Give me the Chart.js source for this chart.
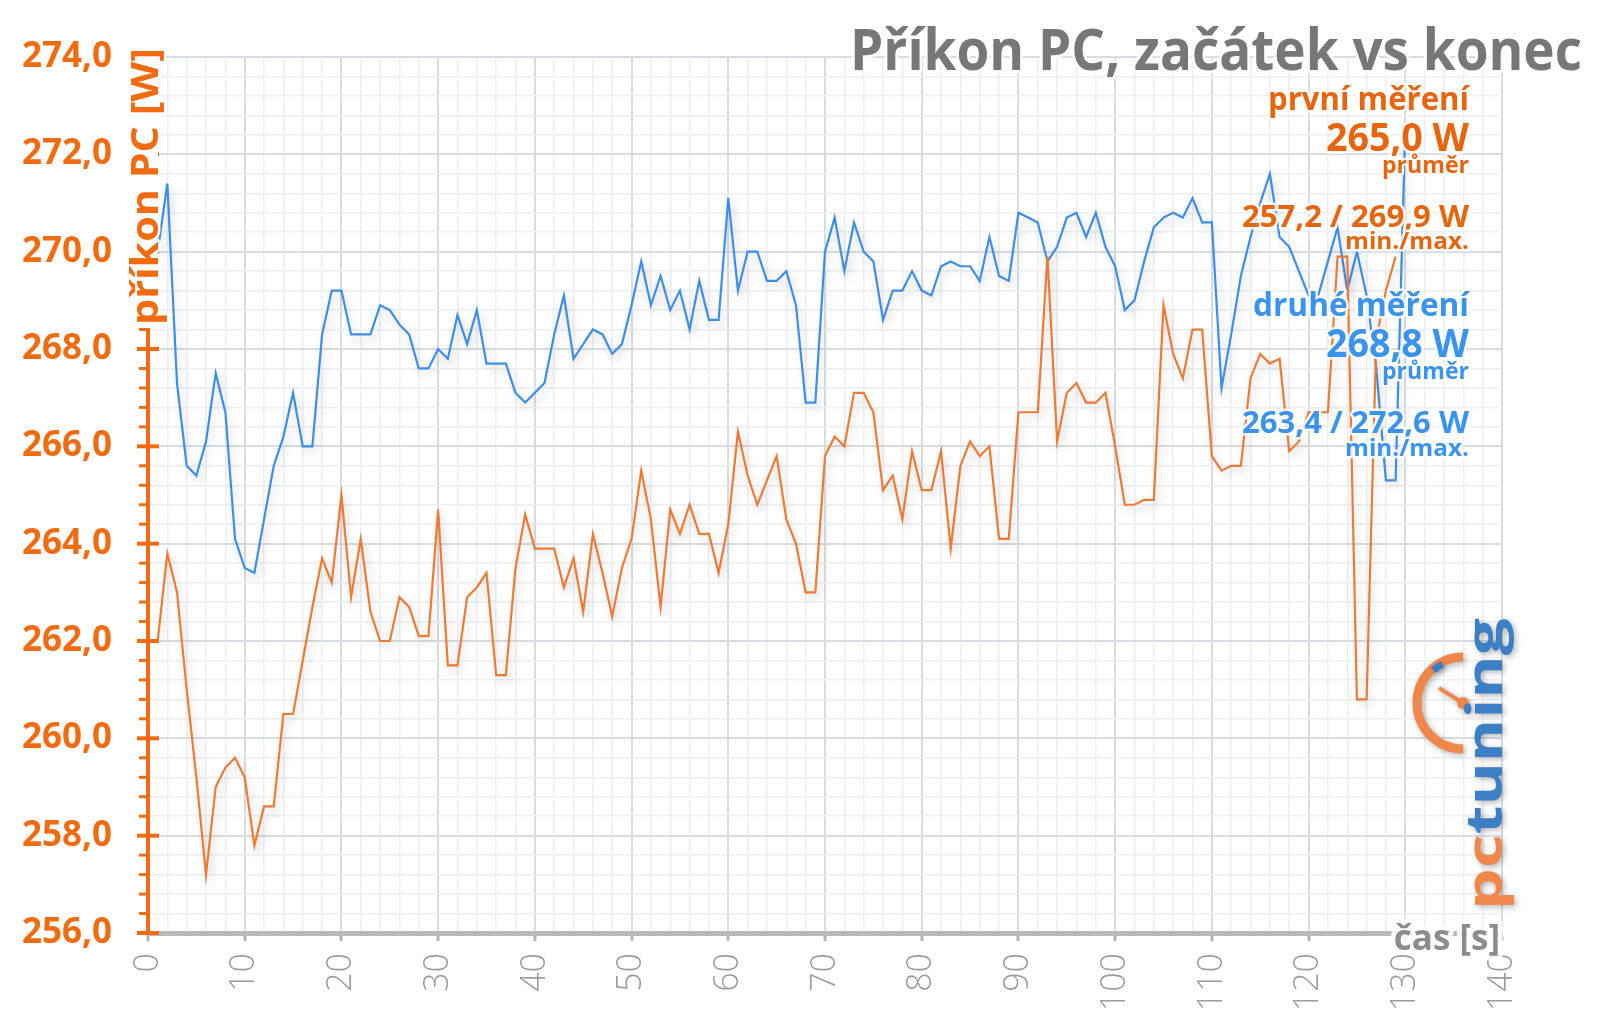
<!DOCTYPE html>
<html>
<head>
<meta charset="utf-8">
<script src="https://cdn.jsdelivr.net/npm/chart.js@4.4.1/dist/chart.umd.min.js"></script>
<style>
  html, body { margin: 0; padding: 0; background: #fff; }
  #wrap { width: 1600px; height: 1017px; }
</style>
</head>
<body>
<div id="wrap"><canvas id="chart" width="1600" height="1017"></canvas></div>
<script>
// time in seconds
var seconds = [1, 2, 3, 4, 5, 6, 7, 8, 9, 10, 11, 12, 13, 14, 15, 16, 17, 18, 19, 20,
    21, 22, 23, 24, 25, 26, 27, 28, 29, 30, 31, 32, 33, 34, 35, 36, 37, 38, 39, 40,
    41, 42, 43, 44, 45, 46, 47, 48, 49, 50, 51, 52, 53, 54, 55, 56, 57, 58, 59, 60,
    61, 62, 63, 64, 65, 66, 67, 68, 69, 70, 71, 72, 73, 74, 75, 76, 77, 78, 79, 80,
    81, 82, 83, 84, 85, 86, 87, 88, 89, 90, 91, 92, 93, 94, 95, 96, 97, 98, 99, 100,
    101, 102, 103, 104, 105, 106, 107, 108, 109, 110, 111, 112, 113, 114, 115, 116, 117, 118, 119, 120,
    121, 122, 123, 124, 125, 126, 127, 128, 129, 130];

// první měření (orange)
var firstRun = [262.0, 263.8, 263.0, 261.0, 259.2, 257.2, 259.0, 259.4, 259.6, 259.2,
    257.8, 258.6, 258.6, 260.5, 260.5, 261.6, 262.7, 263.7, 263.2, 265.0,
    262.9, 264.1, 262.6, 262.0, 262.0, 262.9, 262.7, 262.1, 262.1, 264.7,
    261.5, 261.5, 262.9, 263.1, 263.4, 261.3, 261.3, 263.5, 264.6, 263.9,
    263.9, 263.9, 263.1, 263.7, 262.6, 264.2, 263.4, 262.5, 263.5, 264.1,
    265.5, 264.5, 262.7, 264.7, 264.2, 264.8, 264.2, 264.2, 263.4, 264.4,
    266.3, 265.4, 264.8, 265.3, 265.8, 264.5, 264.0, 263.0, 263.0, 265.8,
    266.2, 266.0, 267.1, 267.1, 266.7, 265.1, 265.4, 264.5, 265.9, 265.1,
    265.1, 265.9, 263.9, 265.6, 266.1, 265.8, 266.0, 264.1, 264.1, 266.7,
    266.7, 266.7, 269.9, 266.1, 267.1, 267.3, 266.9, 266.9, 267.1, 266.0,
    264.8, 264.8, 264.9, 264.9, 268.9, 267.9, 267.4, 268.4, 268.4, 265.8,
    265.5, 265.6, 265.6, 267.4, 267.9, 267.7, 267.8, 265.9, 266.1, 266.7,
    266.7, 266.7, 269.9, 269.9, 260.8, 260.8, 268.2, 269.2, 269.9];

// druhé měření (blue)
var secondRun = [270.0, 271.4, 267.3, 265.6, 265.4, 266.1, 267.5, 266.7, 264.1, 263.5,
    263.4, 264.5, 265.6, 266.2, 267.1, 266.0, 266.0, 268.3, 269.2, 269.2,
    268.3, 268.3, 268.3, 268.9, 268.8, 268.5, 268.3, 267.6, 267.6, 268.0,
    267.8, 268.7, 268.1, 268.8, 267.7, 267.7, 267.7, 267.1, 266.9, 267.1,
    267.3, 268.3, 269.1, 267.8, 268.1, 268.4, 268.3, 267.9, 268.1, 268.9,
    269.8, 268.9, 269.5, 268.8, 269.2, 268.4, 269.4, 268.6, 268.6, 271.1,
    269.2, 270.0, 270.0, 269.4, 269.4, 269.6, 268.9, 266.9, 266.9, 270.0,
    270.7, 269.6, 270.6, 270.0, 269.8, 268.6, 269.2, 269.2, 269.6, 269.2,
    269.1, 269.7, 269.8, 269.7, 269.7, 269.4, 270.3, 269.5, 269.4, 270.8,
    270.7, 270.6, 269.8, 270.1, 270.7, 270.8, 270.3, 270.8, 270.1, 269.7,
    268.8, 269.0, 269.8, 270.5, 270.7, 270.8, 270.7, 271.1, 270.6, 270.6,
    267.2, 268.3, 269.5, 270.3, 271.0, 271.6, 270.3, 270.1, 269.6, 269.1,
    269.1, 269.8, 270.5, 269.2, 270.0, 269.1, 267.6, 265.3, 265.3, 272.6];

var summaryFirst = ['první měření', '265,0 W', 'průměr', '257,2 / 269,9 W', 'min./max.'];
var summarySecond = ['druhé měření', '268,8 W', 'průměr', '263,4 / 272,6 W', 'min./max.'];

var ORANGE = '#f26b10';
var ORANGE_TXT = '#e8650f';
var BLUE_TXT = '#3a93ec';

function toPoints(vals) {
    var pts = [];
    for (var i = 0; i < vals.length; i++) {
        pts.push({x: seconds[i], y: vals[i]});
    }
    return pts;
}

function isMajorY(v) { return Math.abs(v / 2 - Math.round(v / 2)) < 1e-6; }

// draws text, optionally squeezed to a given width, with a white halo
function txt(ctx, s, x, y, o) {
    ctx.save();
    ctx.font = (o.weight || 'bold') + ' ' + o.size + 'px "Open Sans"';
    ctx.textAlign = o.align || 'right';
    ctx.textBaseline = o.base || 'alphabetic';
    var w = ctx.measureText(s).width;
    var sx = o.width ? o.width / w : 1;
    ctx.translate(x, y);
    if (o.rot) ctx.rotate(o.rot);
    ctx.scale(sx, 1);
    if (o.halo) {
        ctx.lineJoin = 'round';
        ctx.lineWidth = o.halo;
        ctx.strokeStyle = 'rgba(255,255,255,0.85)';
        ctx.strokeText(s, 0, 0);
    }
    ctx.fillStyle = o.color;
    ctx.fillText(s, 0, 0);
    ctx.restore();
}

// y ticks + the white strip behind the y title, then a soft shadow for the lines
var lineShadow = {
    id: 'lineShadow',
    beforeDatasetsDraw: function(chart) {
        var c = chart.ctx;
        var y = chart.scales.y;
        var left = chart.chartArea.left;

        c.save();
        c.strokeStyle = ORANGE;
        y.ticks.forEach(function(t) {
            var py = y.getPixelForValue(t.value);
            c.beginPath();
            if (isMajorY(t.value)) {
                c.lineWidth = 4;
                c.moveTo(left - 11, py);
                c.lineTo(left + 11, py);
            } else {
                c.lineWidth = 3;
                c.moveTo(left - 9, py);
                c.lineTo(left, py);
            }
            c.stroke();
        });
        c.fillStyle = '#ffffff';
        c.fillRect(left - 18, 52, 28, 276);
        c.restore();

        c.save();
        c.shadowColor = 'rgba(0,0,0,0.2)';
        c.shadowBlur = 10;
        c.shadowOffsetX = 3;
        c.shadowOffsetY = 5;
    },
    afterDatasetsDraw: function(chart) {
        chart.ctx.restore();
    }
};

var decorations = {
    id: 'decorations',
    afterDraw: function(chart) {
        var ctx = chart.ctx;
        var left = chart.chartArea.left;

        // axis titles
        txt(ctx, 'příkon PC [W]', left - 1, 325, {size: 37, color: ORANGE, align: 'left', base: 'middle', rot: -Math.PI / 2, width: 277, halo: 5});
        txt(ctx, 'čas [s]', 1500, 950, {size: 35, color: '#8c8c8c', align: 'right', halo: 10});

        // title
        txt(ctx, 'Příkon PC, začátek vs konec', 1582, 70, {size: 58, color: '#777777', width: 732, halo: 6});

        // summary texts
        var rx = 1469;
        txt(ctx, summaryFirst[0], rx, 110, {size: 32, color: ORANGE_TXT, width: 201, halo: 5});
        txt(ctx, summaryFirst[1], rx, 151, {size: 40, color: ORANGE_TXT, width: 143, halo: 5});
        txt(ctx, summaryFirst[2], rx, 173, {size: 24, color: ORANGE_TXT, width: 87, halo: 5});
        txt(ctx, summaryFirst[3], rx, 227, {size: 31, color: ORANGE_TXT, width: 227, halo: 5});
        txt(ctx, summaryFirst[4], rx, 249, {size: 24, color: ORANGE_TXT, width: 124, halo: 5});
        txt(ctx, summarySecond[0], rx, 316, {size: 32, color: BLUE_TXT, width: 216, halo: 5});
        txt(ctx, summarySecond[1], rx, 357, {size: 40, color: BLUE_TXT, width: 143, halo: 5});
        txt(ctx, summarySecond[2], rx, 379, {size: 24, color: BLUE_TXT, width: 87, halo: 5});
        txt(ctx, summarySecond[3], rx, 433, {size: 31, color: BLUE_TXT, width: 227, halo: 5});
        txt(ctx, summarySecond[4], rx, 456, {size: 24, color: BLUE_TXT, width: 124, halo: 5});

        // pctuning logo
        ctx.save();
        ctx.shadowColor = 'rgba(0,0,0,0.3)';
        ctx.shadowBlur = 6;
        ctx.shadowOffsetX = 2;
        ctx.shadowOffsetY = 2;
        ctx.strokeStyle = '#f0874a';
        ctx.lineWidth = 9;
        ctx.beginPath();
        ctx.arc(1463, 703, 46, -Math.PI / 2, Math.PI / 2, true);
        ctx.stroke();
        ctx.strokeStyle = '#3b7cc4';
        ctx.lineWidth = 7;
        ctx.beginPath();
        ctx.arc(1463, 703, 44, -132 * Math.PI / 180, -118 * Math.PI / 180);
        ctx.stroke();
        ctx.strokeStyle = '#f0874a';
        ctx.lineWidth = 4;
        ctx.beginPath();
        ctx.moveTo(1463, 703);
        ctx.lineTo(1439, 688);
        ctx.stroke();
        ctx.fillStyle = '#f0874a';
        ctx.beginPath();
        ctx.arc(1463, 703, 6, 0, Math.PI * 2);
        ctx.fill();

        ctx.font = 'bold 50px "Open Sans"';
        ctx.textAlign = 'left';
        ctx.textBaseline = 'alphabetic';
        var wpc = ctx.measureText('pc').width;
        var wall = ctx.measureText('pctuning').width;
        ctx.translate(1502, 910);
        ctx.rotate(-Math.PI / 2);
        ctx.scale(292 / wall, 1);
        ctx.fillStyle = '#f0874a';
        ctx.fillText('pc', 0, 0);
        ctx.fillStyle = '#3b7fc4';
        ctx.fillText('tuning', wpc, 0);
        ctx.restore();
    }
};

new Chart(document.getElementById('chart'), {
    type: 'line',
    data: {
        datasets: [{
            label: 'první měření',
            data: toPoints(firstRun),
            borderColor: '#ee7a33',
            borderWidth: 2.2,
            pointRadius: 0,
            tension: 0,
            fill: false
        }, {
            label: 'druhé měření',
            data: toPoints(secondRun),
            borderColor: '#3d8ee8',
            borderWidth: 2.2,
            pointRadius: 0,
            tension: 0,
            fill: false
        }]
    },
    options: {
        responsive: false,
        animation: false,
        layout: { padding: { left: 0, top: 48, right: 98, bottom: 0 } },
        plugins: {
            legend: { display: false },
            title: { display: false },
            tooltip: { enabled: false }
        },
        scales: {
            x: {
                type: 'linear',
                min: 0,
                max: 140,
                afterFit: function(s) { s.height = 84; },
                ticks: {
                    stepSize: 2,
                    autoSkip: false,
                    maxRotation: 90,
                    minRotation: 90,
                    padding: 12,
                    color: '#9c9c9c',
                    font: { family: 'Open Sans', size: 34, weight: '300' },
                    callback: function(v) { return v % 10 === 0 ? String(v) : ''; }
                },
                grid: {
                    color: function(c) { return c.tick && c.tick.value % 10 === 0 ? '#d9dce3' : '#eceef2'; },
                    lineWidth: function(c) { return c.tick && c.tick.value % 10 === 0 ? 2 : 1.5; },
                    tickLength: 8,
                    tickWidth: 3,
                    tickColor: function(c) { return c.tick && c.tick.value % 10 === 0 ? '#b4b4b4' : 'rgba(0,0,0,0)'; }
                },
                border: { color: '#b9b9b9', width: 5 }
            },
            y: {
                min: 256,
                max: 274,
                afterFit: function(s) { s.width = 148; },
                ticks: {
                    stepSize: 0.4,
                    autoSkip: false,
                    padding: 36,
                    color: ORANGE,
                    font: { family: 'Open Sans', size: 35, weight: 'bold' },
                    callback: function(v) { return isMajorY(v) ? v.toFixed(1).replace('.', ',') : ''; }
                },
                grid: {
                    color: function(c) { return c.tick && isMajorY(c.tick.value) ? '#d9dce3' : '#eceef2'; },
                    lineWidth: function(c) { return c.tick && isMajorY(c.tick.value) ? 2 : 1.5; },
                    drawTicks: false
                },
                border: { color: ORANGE, width: 4 }
            }
        }
    },
    plugins: [lineShadow, decorations]
});
</script>
</body>
</html>
